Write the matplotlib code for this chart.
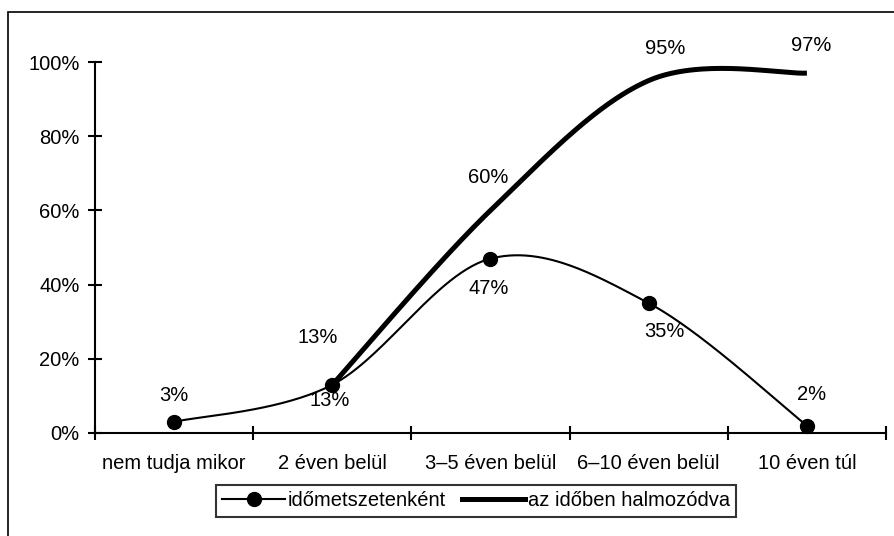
import matplotlib.pyplot as plt
import numpy as np
from matplotlib.lines import Line2D
from matplotlib.patches import Rectangle

plt.rcParams["font.family"] = ["Liberation Sans", "DejaVu Sans"]

categories = ["nem tudja mikor", "2 éven belül", "3–5 éven belül",
              "6–10 éven belül", "10 éven túl"]
per_period = [3, 13, 47, 35, 2]
cumulative = [np.nan, 13, 60, 95, 97]
series_names = ["időmetszetenként", "az időben halmozódva"]
y_ticks = [0, 20, 40, 60, 80, 100]

# label offsets in pixels (dx, dy), as Excel placed them
per_period_offsets = [(0, 26), (-3, -16), (-2, -30), (16, -28), (5, 31)]
cumulative_offsets = [None, (-15, 47), (-2, 33), (16, 32), (4, 28)]


def excel_smooth(ax, xs, ys, n=60):
    # Bezier smoothing like Excel's "smoothed line", done in pixel space
    pts = ax.transData.transform(np.column_stack([xs, ys]))
    out = []
    for i in range(len(pts) - 1):
        p0 = pts[i - 1] if i > 0 else pts[i]
        p1, p2 = pts[i], pts[i + 1]
        p3 = pts[i + 2] if i + 2 < len(pts) else pts[i + 1]
        half = np.linalg.norm(p2 - p1) / 2
        a = (p2 - p0) / 6
        b = (p3 - p1) / 6
        if np.linalg.norm(a) > half:
            a = a * half / np.linalg.norm(a)
        if np.linalg.norm(b) > half:
            b = b * half / np.linalg.norm(b)
        c1, c2 = p1 + a, p2 - b
        t = np.linspace(0, 1, n)[:, None]
        seg = ((1 - t) ** 3 * p1 + 3 * (1 - t) ** 2 * t * c1
               + 3 * (1 - t) * t ** 2 * c2 + t ** 3 * p2)
        out.append(seg if i == 0 else seg[1:])
    return ax.transData.inverted().transform(np.vstack(out))


fig = plt.figure(figsize=(8.95, 5.36), dpi=100)
ax = fig.add_axes([95 / 895, 103 / 536, 791 / 895, 371 / 536])

x = np.arange(len(categories))
ax.set_xlim(-0.5, len(categories) - 0.5)
ax.set_ylim(0, 100)

for side in ["top", "right"]:
    ax.spines[side].set_visible(False)
for side in ["left", "bottom"]:
    ax.spines[side].set_linewidth(1.5)

ax.set_yticks(y_ticks)
ax.set_yticklabels([f"{v}%" for v in y_ticks])
ax.set_xticks(np.arange(-0.5, len(categories)), labels=[])
ax.set_xticks(x, minor=True)
ax.set_xticklabels(categories, minor=True)
ax.tick_params(axis="both", which="major", direction="inout", length=10,
               width=1.5, labelsize=14.5, pad=6)
ax.tick_params(axis="x", which="minor", length=0, labelsize=14.5, pad=15)

cum = np.array(cumulative, dtype=float)
mask = ~np.isnan(cum)
sm1 = excel_smooth(ax, x, np.array(per_period, dtype=float))
sm2 = excel_smooth(ax, x[mask], cum[mask])

ax.plot(sm2[:, 0], sm2[:, 1], color="black", lw=3.6, solid_capstyle="butt",
        zorder=3)
ax.plot(sm1[:, 0], sm1[:, 1], color="black", lw=1.5, zorder=4)
ax.plot(x, per_period, "o", color="black", ms=10, zorder=5, clip_on=False)

for xi, v, off in zip(x, per_period, per_period_offsets):
    ax.annotate(f"{v}%", (xi, v), xytext=off, textcoords="offset pixels",
                ha="center", va="center", fontsize=14.5)
for xi, v, off in zip(x, cumulative, cumulative_offsets):
    if off is None or np.isnan(v):
        continue
    ax.annotate(f"{v:.0f}%", (xi, v), xytext=off, textcoords="offset pixels",
                ha="center", va="center", fontsize=14.5)

handles = [
    Line2D([], [], color="black", lw=1.5, marker="o", ms=10),
    Line2D([], [], color="black", lw=3.6),
]
leg = fig.legend(handles, series_names, loc="center", ncol=2,
                 bbox_to_anchor=(476 / 895, 1 - 501 / 536), fontsize=14.5,
                 frameon=True, fancybox=False, edgecolor="black",
                 handlelength=3.1, handletextpad=0.15, columnspacing=0.8,
                 borderpad=0.3, borderaxespad=0)
leg.get_frame().set_linewidth(1.5)

fig.add_artist(Rectangle((8 / 895, -0.1), 1.2, 1.1 - 12 / 536,
                         transform=fig.transFigure, fill=False,
                         edgecolor="black", lw=1.2))

fig.savefig("out.png", dpi=100)
